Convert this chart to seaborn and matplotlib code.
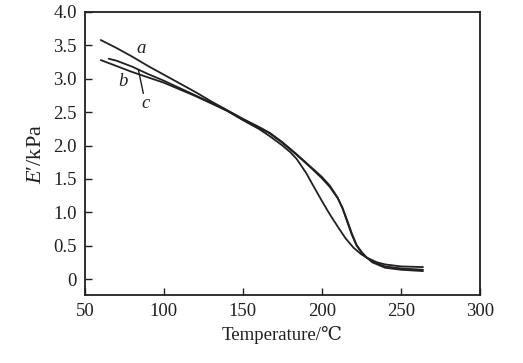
import numpy as np
import pandas as pd
import matplotlib
matplotlib.use("Agg")
import matplotlib.pyplot as plt
import seaborn as sns

# ---- data ----
temp_a = [60, 70, 80, 90, 100, 110, 120, 130, 140, 150, 160, 167, 175, 184, 192, 200, 205, 210, 213, 216, 219, 222, 225, 228, 232, 240, 250, 264]
val_a  = [3.58, 3.46, 3.33, 3.19, 3.06, 2.93, 2.80, 2.66, 2.53, 2.40, 2.28, 2.19, 2.05, 1.87, 1.70, 1.53, 1.40, 1.22, 1.06, 0.86, 0.66, 0.50, 0.40, 0.33, 0.26, 0.19, 0.16, 0.14]

temp_b = [60, 70, 80, 90, 100, 110, 120, 130, 140, 150, 160, 167, 175, 180, 184, 190, 194, 200, 205, 211, 215, 220, 225, 228.5, 235, 240, 250, 264]
val_b  = [3.28, 3.19, 3.10, 3.02, 2.94, 2.84, 2.74, 2.63, 2.52, 2.38, 2.25, 2.14, 2.00, 1.90, 1.80, 1.59, 1.42, 1.17, 0.97, 0.75, 0.61, 0.47, 0.37, 0.32, 0.25, 0.22, 0.19, 0.18]

temp_c = [65, 70, 80, 90, 100, 110, 120, 130, 140, 150, 160, 167, 175, 184, 192, 200, 205, 210, 213, 216, 219, 222, 225, 228, 232, 240, 250, 264]
val_c  = [3.30, 3.27, 3.18, 3.07, 2.97, 2.86, 2.75, 2.64, 2.52, 2.39, 2.27, 2.18, 2.04, 1.86, 1.69, 1.51, 1.38, 1.21, 1.07, 0.88, 0.68, 0.51, 0.41, 0.33, 0.25, 0.17, 0.14, 0.12]

x_ticks = [50, 100, 150, 200, 250, 300]
y_ticks = [0, 0.5, 1.0, 1.5, 2.0, 2.5, 3.0, 3.5, 4.0]
y_tick_labels = ["0", "0.5", "1.0", "1.5", "2.0", "2.5", "3.0", "3.5", "4.0"]

df = pd.concat([
    pd.DataFrame({"T": temp_a, "E": val_a, "s": "a"}),
    pd.DataFrame({"T": temp_b, "E": val_b, "s": "b"}),
    pd.DataFrame({"T": temp_c, "E": val_c, "s": "c"}),
], ignore_index=True)

sns.set_style("ticks")
plt.rcParams["font.family"] = ["Liberation Serif", "DejaVu Serif", "DejaVu Sans"]
plt.rcParams["mathtext.fontset"] = "custom"
plt.rcParams["mathtext.rm"] = "Liberation Serif"
plt.rcParams["mathtext.it"] = "Liberation Serif:italic"

ink = "#231f20"
fig = plt.figure(figsize=(5.23, 3.63), dpi=100)
ax = fig.add_axes([0.1625, 0.187, 0.755, 0.780])

sns.lineplot(data=df, x="T", y="E", hue="s", palette=[ink, ink, ink],
             linewidth=1.3, legend=False, ax=ax, sort=False, estimator=None)

ax.set_xlim(50, 300)
ax.set_ylim(-0.24, 4.0)
ax.set_xticks(x_ticks)
ax.set_xticklabels([str(v) for v in x_ticks])
ax.set_yticks(y_ticks)
ax.set_yticklabels(y_tick_labels)
ax.tick_params(direction="in", length=5, width=1.0, colors=ink, labelsize=13.5, pad=6)
for sp in ax.spines.values():
    sp.set_visible(True)
    sp.set_color(ink)
    sp.set_linewidth(1.3)

ax.set_xlabel("Temperature/℃", fontsize=13.5, color=ink, labelpad=4)
ax.set_ylabel("$E$′/kPa", fontsize=16, color=ink, labelpad=5)

# curve labels
ax.text(85.4, 3.46, "a", style="italic", fontsize=13.5, color=ink, ha="center", va="center")
ax.text(74, 2.96, "b", style="italic", fontsize=13.5, color=ink, ha="center", va="center")
ax.text(88.6, 2.63, "c", style="italic", fontsize=13.5, color=ink, ha="center", va="center")
ax.annotate("", xy=(83.5, 3.17), xytext=(87.3, 2.74),
            arrowprops=dict(arrowstyle="-", color=ink, lw=1.0))

fig.savefig("out.png", dpi=100)
